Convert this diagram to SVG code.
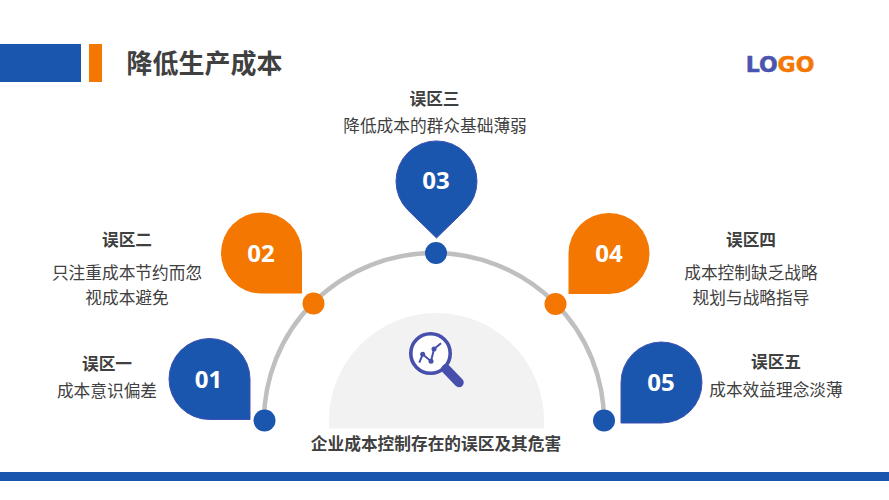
<svg xmlns="http://www.w3.org/2000/svg" width="889" height="500" viewBox="0 0 889 500">
<style>
text{font-family:"Open Sans","Noto Sans CJK SC",sans-serif;text-anchor:middle}
.cjk{font-family:"Noto Sans CJK SC","Noto Sans",sans-serif;fill:#404040}
.h{font-size:16.700px;font-weight:700}
.b{font-size:16.700px}
.n{font-family:"Open Sans",sans-serif;font-size:24px;font-weight:700;fill:#fff}
.blue{fill:#1b56ae;stroke:#3f51b0;stroke-width:1}
.orange{fill:#f47702}
.dotb{fill:#1b56ae}
</style>
<rect width="889" height="500" fill="#fff"/>
<g id="header">
<rect x="0" y="44" width="81" height="38" fill="#1b56ae"/>
<rect x="89" y="44" width="13" height="38" fill="#f47702"/>
<text class="cjk" x="204.500" y="73" style="font-size:26px;font-weight:700">降低生产成本</text>
</g>
<g id="logo">
<text x="780" y="71.500" style="font-family:'DejaVu Sans',sans-serif;font-size:22px;font-weight:700;stroke-width:.5"><tspan fill="#4a54ae" stroke="#4a54ae">LO</tspan><tspan fill="#f47702" stroke="#f47702">GO</tspan></text>
</g>
<g id="center">
<path d="M329 428.500V420.500A107.500 107.500 0 0 1 544 420.500V428.500Z" fill="#f2f2f2"/>
<g id="icon">
<circle cx="430.500" cy="353.500" r="19.700" fill="#fff" stroke="#464fab" stroke-width="3.600"/>
<path d="M419.300 362.700L422.700 354.300L431 361.300L434 349L441 343.300" fill="none" stroke="#464fab" stroke-width="2"/>
<circle cx="422.700" cy="354.300" r="2.500" fill="#464fab"/><circle cx="431" cy="361.300" r="2.500" fill="#464fab"/><circle cx="434" cy="349" r="2.500" fill="#464fab"/>
<path d="M446 369L459 382.500" stroke="#464fab" stroke-width="9.500" stroke-linecap="round"/>
</g>
<text class="cjk" x="436" y="450" style="font-size:16.700px;font-weight:700">企业成本控制存在的误区及其危害</text>
</g>
<g id="connectors">
<path d="M264 421A170 168 0 0 1 604 421" fill="none" stroke="#bfbfbf" stroke-width="4.500"/>
</g>
<g id="node1">
<path class="blue" d="M250 419.500H209.500A40.500 40.500 0 1 1 250 379Z"/>
<circle class="dotb" cx="264.500" cy="420.500" r="11"/>
<text class="n" x="208.500" y="388">01</text>
<text class="cjk h" x="107" y="370">误区一</text>
<text class="cjk b" x="107" y="397">成本意识偏差</text>
</g>
<g id="node2">
<path class="orange" d="M302 293.500H261.500A40.500 40.500 0 1 1 302 253Z"/>
<circle class="orange" cx="313.500" cy="303.500" r="11"/>
<text class="n" x="261" y="262">02</text>
<text class="cjk h" x="127" y="246">误区二</text>
<text class="cjk b" x="127" y="279">只注重成本节约而忽</text>
<text class="cjk b" x="127" y="304">视成本避免</text>
</g>
<g id="node3">
<path class="blue" d="M436.500 238L407.900 210.100A40.500 40.500 0 1 1 465.100 210.100Z"/>
<circle class="dotb" cx="436" cy="253" r="11"/>
<text class="n" x="436" y="189">03</text>
<text class="cjk h" x="434.500" y="105">误区三</text>
<text class="cjk b" x="435" y="132">降低成本的群众基础薄弱</text>
</g>
<g id="node4">
<path class="orange" d="M568.500 294V253.500A40.500 40.500 0 1 1 609 294Z"/>
<circle class="orange" cx="555.500" cy="304" r="11"/>
<text class="n" x="609" y="262">04</text>
<text class="cjk h" x="751" y="246">误区四</text>
<text class="cjk b" x="751" y="279">成本控制缺乏战略</text>
<text class="cjk b" x="751" y="304">规划与战略指导</text>
</g>
<g id="node5">
<path class="blue" d="M621 423V383A40.500 40.500 0 1 1 661.500 423Z"/>
<circle class="dotb" cx="604" cy="420.500" r="11"/>
<text class="n" x="661" y="391">05</text>
<text class="cjk h" x="776" y="368">误区五</text>
<text class="cjk b" x="776" y="396">成本效益理念淡薄</text>
</g>
<g id="footer">
<rect x="0" y="472" width="889" height="9" fill="#1b56ae"/>
</g>
</svg>
